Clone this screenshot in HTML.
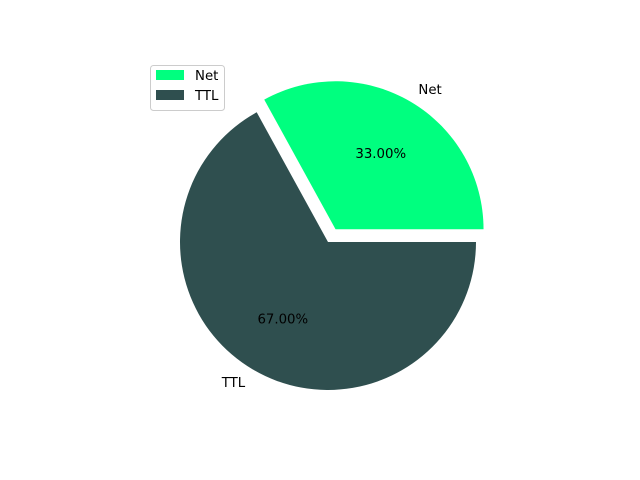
<!DOCTYPE html>
<html><head><meta charset="utf-8"><style>
html,body{margin:0;padding:0;background:#fff;}
svg{display:block;font-family:"DejaVu Sans","Liberation Sans",sans-serif;}
</style></head><body>
<svg id="chart" width="640" height="480">
<rect width="640" height="480" fill="#fff"/>
<g id="slices"></g>
<g id="legend">
<rect x="150.5" y="65.5" width="74" height="45" rx="3" fill="#fff" fill-opacity="0.8" stroke="#ccc"/>
</g>
</svg>
<script>
const categories = ["Net", "TTL"];
const values = [33, 67];
const colors = ["#00ff7f", "#2f4f4f"];
const explode = [0.1, 0];

const NS = "http://www.w3.org/2000/svg";
const cx = 328, cy = 242, r = 148;
const g = document.getElementById("slices");
const total = values.reduce((a,b)=>a+b,0);
let start = 0;
values.forEach((v,i)=>{
  const sweep = v/total*360;
  const end = start + sweep;
  const mid = (start+end)/2*Math.PI/180;
  const ox = cx + explode[i]*r*Math.cos(mid);
  const oy = cy - explode[i]*r*Math.sin(mid);
  const a0 = start*Math.PI/180, a1 = end*Math.PI/180;
  const x0 = ox + r*Math.cos(a0), y0 = oy - r*Math.sin(a0);
  const x1 = ox + r*Math.cos(a1), y1 = oy - r*Math.sin(a1);
  const large = sweep > 180 ? 1 : 0;
  const p = document.createElementNS(NS,"path");
  p.setAttribute("d",`M${ox},${oy} L${x0},${y0} A${r},${r} 0 ${large} 0 ${x1},${y1} Z`);
  p.setAttribute("fill",colors[i]);
  
  
  g.appendChild(p);
  const lx = ox + 1.1*r*Math.cos(mid), ly = oy - 1.1*r*Math.sin(mid);
  const t = document.createElementNS(NS,"text");
  t.setAttribute("x",lx); t.setAttribute("y",ly+5);
  t.setAttribute("font-size","13.3");
  t.setAttribute("text-anchor", Math.cos(mid) >= 0 ? "start" : "end");
  t.textContent = categories[i];
  
  
  g.appendChild(t);
  const px = ox + 0.6*r*Math.cos(mid), py = oy - 0.6*r*Math.sin(mid);
  const pt = document.createElementNS(NS,"text");
  pt.setAttribute("x",px); pt.setAttribute("y",py+5);
  pt.setAttribute("font-size","13.3");
  pt.setAttribute("text-anchor","middle");
  pt.textContent = (v/total*100).toFixed(2) + "%";
  
  
  g.appendChild(pt);
  start = end;
});
const lg = document.getElementById("legend");
categories.forEach((c,i)=>{
  const y = 70 + i*20;
  const sw = document.createElementNS(NS,"rect");
  sw.setAttribute("x",156); sw.setAttribute("y",y); sw.setAttribute("width",28); sw.setAttribute("height",10);
  sw.setAttribute("fill",colors[i]);
  
  
  lg.appendChild(sw);
  const t = document.createElementNS(NS,"text");
  t.setAttribute("x",195); t.setAttribute("y",y+10);
  t.setAttribute("font-size","13.3");
  t.textContent = c;
  
  
  lg.appendChild(t);
});
</script>
</body></html>
